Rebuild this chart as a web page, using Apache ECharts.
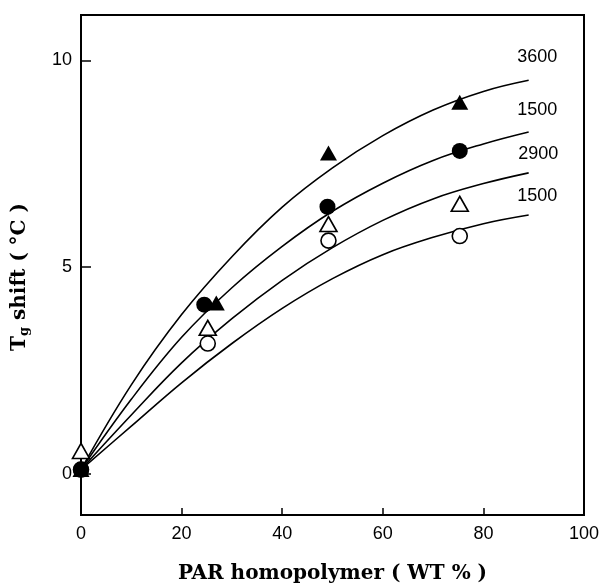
<!DOCTYPE html>
<html>
<head>
<meta charset="utf-8">
<script src="https://cdn.jsdelivr.net/npm/echarts@6/dist/echarts.min.js"></script>
<style>
html,body{margin:0;padding:0;background:#fff;}
#chart{width:602px;height:585px;}
</style>
</head>
<body>
<div id="chart"></div>
<script>
// Fitted curves
const curveX = [0, 10, 20, 30, 40, 50, 60, 70, 80, 89];
const curve3600 = [0.1, 2.15, 3.85, 5.25, 6.45, 7.4, 8.18, 8.8, 9.25, 9.52];
const curve1500a = [0.1, 1.8, 3.3, 4.5, 5.5, 6.35, 7.03, 7.58, 7.98, 8.27];
const curve2900 = [0.1, 1.42, 2.68, 3.75, 4.68, 5.47, 6.13, 6.65, 7.02, 7.28];
const curve1500b = [0.1, 1.15, 2.2, 3.15, 4.0, 4.72, 5.3, 5.72, 6.05, 6.26];

// Measured points
const filledTriX = [0, 26.9, 49.2, 75.3];
const filledTriY = [0.1, 4.13, 7.76, 8.99];
const filledCircX = [0, 24.5, 49.0, 75.3];
const filledCircY = [0.1, 4.09, 6.46, 7.81];
const openTriX = [0, 25.2, 49.2, 75.3];
const openTriY = [0.55, 3.53, 6.04, 6.53];
const openCircX = [0, 25.2, 49.2, 75.3];
const openCircY = [0.1, 3.15, 5.64, 5.75];

// Curve labels
const labelText = ['3600', '1500', '2900', '1500'];
const labelX = [90.7, 90.7, 90.9, 90.7];
const labelY = [10.08, 8.79, 7.73, 6.73];

const xTicks = [0, 20, 40, 60, 80, 100];
const yTicks = [0, 5, 10];

function pairs(xs, ys) { return xs.map((x, i) => [x, ys[i]]); }

const chart = echarts.init(document.getElementById('chart'));
const lineStyle = { color: '#000', width: 1.6 };
function curve(ys) {
  return { type: 'line', data: pairs(curveX, ys), smooth: 0.4, showSymbol: false, symbol: 'none', lineStyle: lineStyle, silent: true, z: 2 };
}
const serif = 'DejaVu Serif, Liberation Serif, serif';
const sans = 'Liberation Sans, Arial, sans-serif';
chart.setOption({
  animation: false,
  backgroundColor: '#fff',
  grid: { left: 81, right: 18, top: 15, bottom: 70, containLabel: false, outerBoundsMode: 'none',
    show: true, borderColor: '#000', borderWidth: 2, backgroundColor: 'transparent' },
  xAxis: {
    type: 'value', min: 0, max: 100, interval: 20,
    axisLine: { show: true, onZero: false, lineStyle: { color: '#000', width: 2 } },
    axisTick: { show: true, inside: true, length: 7, lineStyle: { color: '#000', width: 1.5 } },
    axisLabel: { color: '#000', fontSize: 18, fontFamily: sans, margin: 10 },
    splitLine: { show: false },
    name: 'PAR homopolymer ( WT % )', nameLocation: 'middle', nameGap: 49,
    nameTextStyle: { color: '#000', fontSize: 20, fontWeight: 'bold', fontFamily: serif }
  },
  yAxis: {
    type: 'value', min: -1, max: 11.1,
    axisLine: { show: true, onZero: false, lineStyle: { color: '#000', width: 2 } },
    axisTick: { show: true, inside: true, length: 10, lineStyle: { color: '#000', width: 1.5 }, customValues: yTicks },
    axisLabel: { color: '#000', fontSize: 18, fontFamily: sans, margin: 9, customValues: yTicks },
    splitLine: { show: false },
    name: 'T{sub|g} shift ( °C )', nameLocation: 'middle', nameGap: 50,
    nameTextStyle: { color: '#000', fontSize: 20, fontWeight: 'bold', fontFamily: serif, padding: [0, 24, 0, 0],
      rich: { sub: { fontSize: 13, fontWeight: 'bold', fontFamily: serif, color: '#000', verticalAlign: 'bottom', padding: [10, 0, 0, 0] } } }
  },
  series: [
    curve(curve3600), curve(curve1500a), curve(curve2900), curve(curve1500b),
    { type: 'scatter', data: pairs(openCircX, openCircY), symbol: 'circle', symbolSize: 15,
      itemStyle: { color: '#fff', borderColor: '#000', borderWidth: 1.6, opacity: 1 }, z: 3 },
    { type: 'scatter', data: pairs(openTriX, openTriY), symbol: 'triangle', symbolSize: [17, 15],
      itemStyle: { color: '#fff', borderColor: '#000', borderWidth: 1.6, opacity: 1 }, z: 3 },
    { type: 'scatter', data: pairs(filledTriX, filledTriY), symbol: 'triangle', symbolSize: [17, 15],
      itemStyle: { color: '#000', opacity: 1 }, z: 4 },
    { type: 'scatter', data: pairs(filledCircX, filledCircY), symbol: 'circle', symbolSize: 16,
      itemStyle: { color: '#000', opacity: 1 }, z: 4 },
    { type: 'scatter', data: labelX.map((x, i) => ({ value: [x, labelY[i]], name: labelText[i] })),
      symbolSize: 0, silent: true, itemStyle: { opacity: 1 },
      label: { show: true, position: 'inside', formatter: p => p.name, color: '#000', fontSize: 18,
        fontFamily: sans }, z: 5 }
  ]
});
</script>
</body>
</html>
